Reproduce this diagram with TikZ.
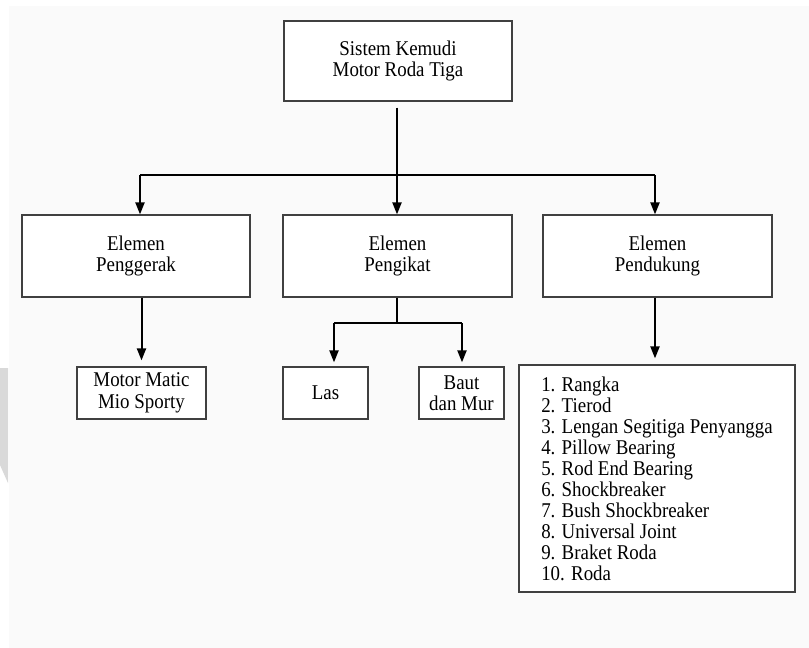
\documentclass[tikz,border=0pt]{standalone}
\usepackage{fontspec}
\setmainfont[FakeStretch=0.9]{Liberation Serif}
\usetikzlibrary{arrows.meta}

\tikzset{
  box/.style={draw=black!75, line width=1.2pt, fill=white, rectangle, inner sep=0pt,
              align=center, font=\fontsize{21}{21.5}\selectfont},
  conn/.style={line width=2pt, black},
  arr/.style={conn, -{Triangle[length=12pt,width=9pt]}},
}

\begin{document}
\begin{tikzpicture}[x=1pt, y=-1pt]
  % page and background
  \useasboundingbox (0,0) rectangle (809,648);
  \fill[white] (0,0) rectangle (809,648);
  \fill[black!2] (9,6) rectangle (809,648);
  \fill[black!15] (0,368) -- (8,368) -- (8,483) -- (0,465) -- cycle;

  % boxes
  \node[box, minimum width=228pt, minimum height=80pt] (top) at (398,61) {Sistem Kemudi\\Motor Roda Tiga};
  \node[box, minimum width=228pt, minimum height=82pt] (pg) at (136,256) {Elemen\\Penggerak};
  \node[box, minimum width=229pt, minimum height=82pt] (pk) at (397.5,256) {Elemen\\Pengikat};
  \node[box, minimum width=229pt, minimum height=82pt] (pd) at (657.5,256) {Elemen\\Pendukung};
  \node[box, minimum width=129pt, minimum height=52pt] (mm) at (141.5,393) {Motor Matic\\Mio Sporty};
  \node[box, minimum width=85pt, minimum height=52pt] (las) at (325.5,393) {Las};
  \node[box, minimum width=85pt, minimum height=52pt] (baut) at (461.5,393) {Baut\\dan Mur};
  \node[box, minimum width=276pt, minimum height=227pt, align=left,
        font=\fontsize{21}{21}\selectfont] (list) at (657,478.5)
    {1. Rangka\\2. Tierod\\3. Lengan Segitiga Penyangga\\4. Pillow Bearing\\5. Rod End Bearing\\
     6. Shockbreaker\\7. Bush Shockbreaker\\8. Universal Joint\\9. Braket Roda\\10. Roda};

  % junction points
  \coordinate (jt) at (397,175);
  \coordinate (jl) at (140,175);
  \coordinate (jr) at (655,175);
  \coordinate (jm) at (397,323);
  \coordinate (jml) at (334,323);
  \coordinate (jmr) at (462,323);

  % top level
  \draw[conn] ([yshift=-6pt]top.south -| jt) -- (jt);
  \draw[conn] (jl) -- (jr);
  \draw[arr] (jl) -- (jl |- pg.north);
  \draw[arr] (jt) -- (jt |- pk.north);
  \draw[arr] (jr) -- (jr |- pd.north);

  % second level
  \draw[arr, shorten >=6pt] (pg.south -| mm.north) -- (mm.north);
  \draw[conn] (pk.south -| jm) -- (jm);
  \draw[conn] (jml) -- (jmr);
  \draw[arr, shorten >=4pt] (jml) -- (jml |- las.north);
  \draw[arr, shorten >=4pt] (jmr) -- (jmr |- baut.north);
  \draw[arr, shorten >=6pt] (pd.south -| jr) -- (jr |- list.north);
\end{tikzpicture}
\end{document}
